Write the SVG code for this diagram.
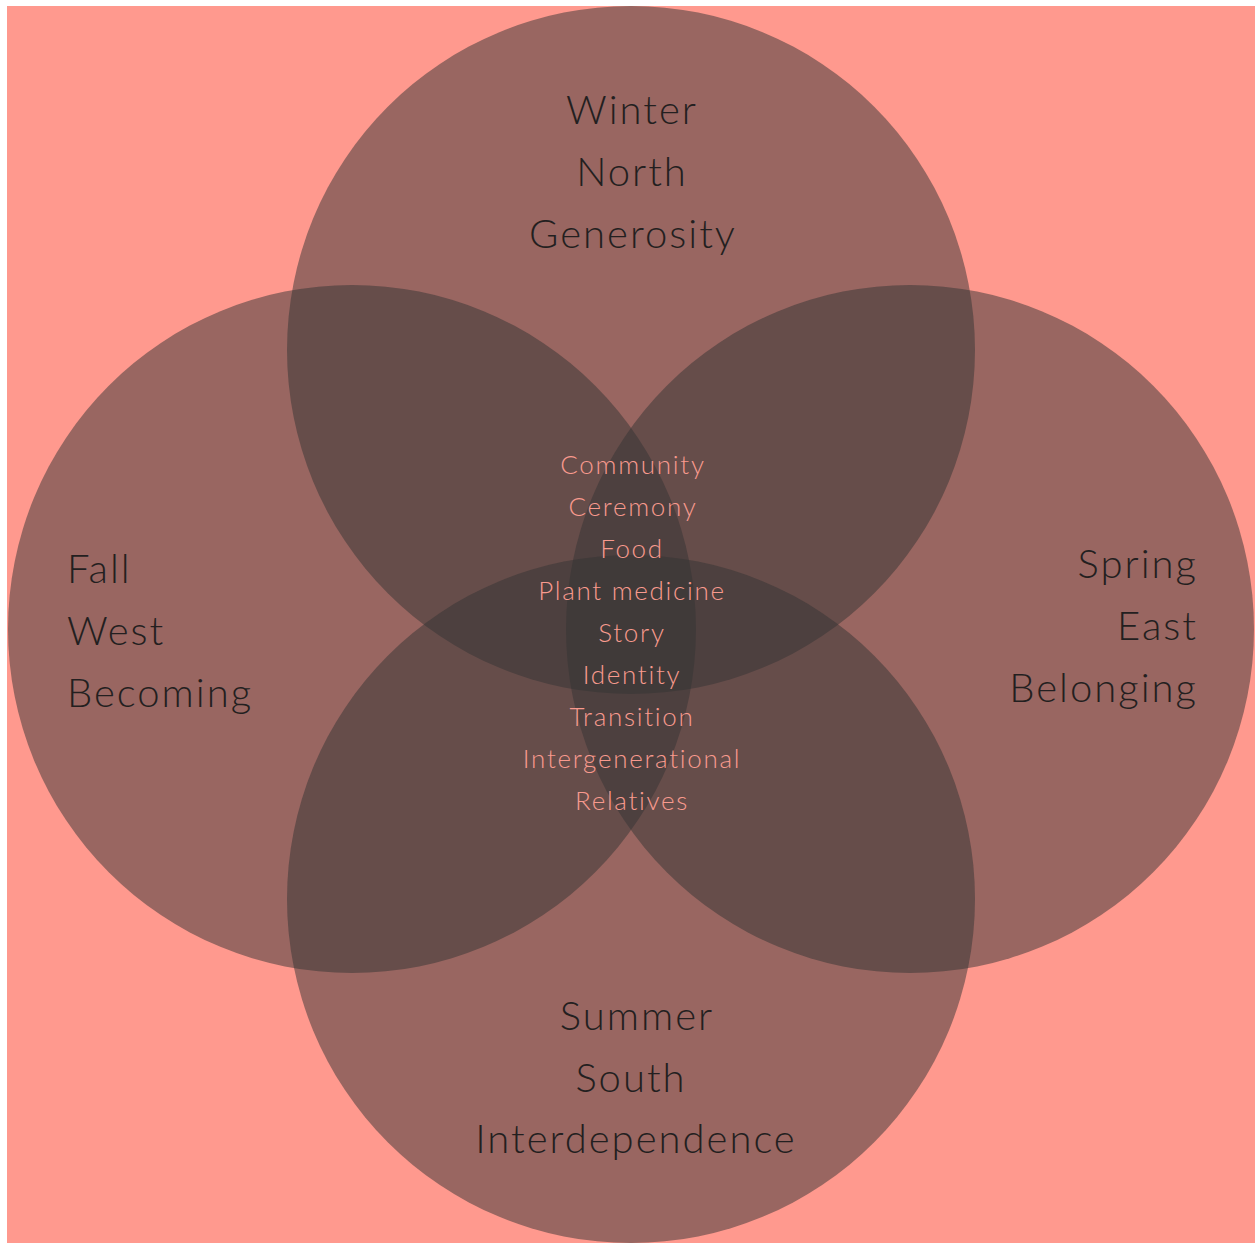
<svg xmlns="http://www.w3.org/2000/svg" width="1255" height="1243" viewBox="0 0 1255 1243">
<style>
.c{fill:#333;fill-opacity:0.5}
.t{font-family:Lato,"Liberation Sans",sans-serif;font-size:40px;fill:#231f20;font-weight:300;letter-spacing:2px}
.s{font-family:Lato,"Liberation Sans",sans-serif;font-size:26px;fill:#f89a8e;font-weight:300;text-anchor:middle;letter-spacing:1.7px}
</style>
<rect x="0" y="0" width="1255" height="1243" fill="#ffffff"/>
<rect x="7" y="6" width="1248" height="1237" fill="#ff998e"/>
<g id="north"><circle class="c" cx="631" cy="350" r="344"/></g>
<g id="west"><circle class="c" cx="352" cy="629" r="344"/></g>
<g id="east"><circle class="c" cx="910" cy="629" r="344"/></g>
<g id="south"><circle class="c" cx="631" cy="899" r="344"/></g>
<g id="connectors"></g>
<g id="north-label" class="t" text-anchor="middle">
<text x="632" y="124">Winter</text>
<text x="632" y="186">North</text>
<text x="633" y="248">Generosity</text>
</g>
<g id="west-label" class="t" text-anchor="start">
<text x="67" y="583">Fall</text>
<text x="67" y="645">West</text>
<text x="67" y="707">Becoming</text>
</g>
<g id="east-label" class="t" text-anchor="end">
<text x="1198" y="578">Spring</text>
<text x="1198" y="640">East</text>
<text x="1198" y="702">Belonging</text>
</g>
<g id="south-label" class="t" text-anchor="middle">
<text x="637" y="1030">Summer</text>
<text x="631" y="1092">South</text>
<text x="636" y="1153">Interdependence</text>
</g>
<g id="center-label" class="s">
<text x="633" y="474">Community</text>
<text x="633" y="516">Ceremony</text>
<text x="632" y="558">Food</text>
<text x="632" y="600">Plant medicine</text>
<text x="632" y="642">Story</text>
<text x="632" y="684">Identity</text>
<text x="632" y="726">Transition</text>
<text x="632" y="768">Intergenerational</text>
<text x="632" y="810">Relatives</text>
</g>
</svg>
